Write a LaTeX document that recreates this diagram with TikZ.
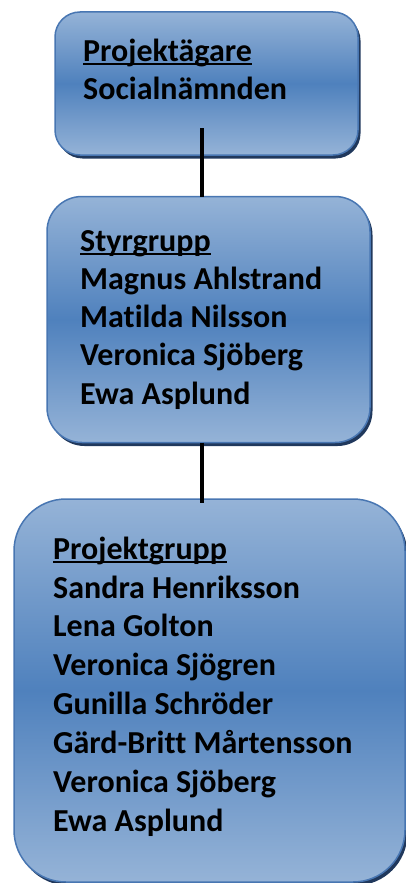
\documentclass[tikz,border=0pt]{standalone}
\usepackage{fontspec}
\setmainfont[Ligatures=NoCommon]{Carlito}
\usetikzlibrary{shadows}
\definecolor{lightblue}{RGB}{149,179,215}
\definecolor{midblue}{RGB}{79,129,189}
\definecolor{edgeblue}{RGB}{72,118,178}
\definecolor{shadowblue}{RGB}{32,56,92}
\newcommand{\ul}[1]{\setbox0\hbox{#1}\rlap{\rule[-4pt]{\wd0}{2pt}}\box0}
\tikzset{
  orgbox/.style={draw=edgeblue, line width=1.5pt, top color=lightblue, bottom color=lightblue, middle color=midblue,
    drop shadow={shadow xshift=2.5pt, shadow yshift=-3.5pt, fill=shadowblue, opacity=1},
    inner sep=0pt, outer sep=0pt},
  orgtext/.style={anchor=north west, inner sep=0pt, align=left, font=\bfseries\fontsize{32}{38.5}\selectfont},
  conn/.style={line width=3.5pt, black}
}
\begin{document}
\begin{tikzpicture}[x=1pt,y=-1pt]
\useasboundingbox (0,0) rectangle (406,883);
% boxes
\node[orgbox, rounded corners=25pt, minimum width=303pt, minimum height=143pt] (b1) at (206.5,83.5) {};
\node[orgbox, rounded corners=35pt, minimum width=323pt, minimum height=246pt] (b2) at (208.5,319.5) {};
\node[orgbox, rounded corners=52pt, minimum width=391pt, minimum height=383pt] (b3) at (209.5,690.5) {};
% texts
\node[orgtext] (t1) at (83,61-26.95) {\strut\ul{Projektägare}\\Socialnämnden};
\node[orgtext, font=\bfseries\fontsize{32}{38.25}\selectfont] (t2) at (80,251-26.78) {\strut\ul{Styrgrupp}\\Magnus Ahlstrand\\Matilda Nilsson\\Veronica Sjöberg\\Ewa Asplund};
\node[orgtext, font=\bfseries\fontsize{32}{38.86}\selectfont] (t3) at (53,559-27.2) {\strut\ul{Projektgrupp}\\Sandra Henriksson\\Lena Golton\\Veronica Sjögren\\Gunilla Schröder\\Gärd-Britt Mårtensson\\Veronica Sjöberg\\Ewa Asplund};
% connectors
\coordinate (c1) at (202,128);
\coordinate (c2) at (202,443);
\coordinate (c3) at (202,503);
\draw[conn] (c1) -- (c1 |- b2.north);
\draw[conn] (c2 |- b2.south) -- (c3);
\end{tikzpicture}
\end{document}
